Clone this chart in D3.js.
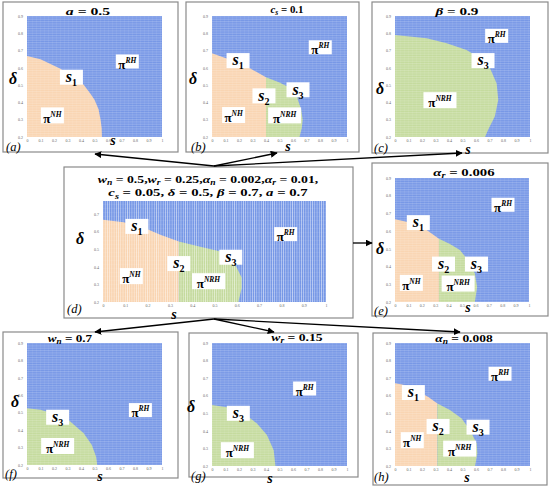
<!DOCTYPE html>
<html>
<head>
<meta charset="utf-8">
<script src="https://cdn.jsdelivr.net/npm/d3@7"></script>
<style>
  body { margin: 0; background: #fff; }
  text { font-family: "Liberation Serif", "DejaVu Serif", serif; }
</style>
</head>
<body>
<svg id="fig" width="550" height="488"></svg>
<script>
// ---- data: boundary of the pi^RH region in each panel, as [s, delta] ----
const edgeA = [[0,0.669],[0.1,0.65],[0.24,0.598],[0.34,0.55],[0.42,0.502],[0.47,0.45],[0.5,0.415],[0.53,0.36],[0.545,0.3],[0.553,0.25],[0.555,0.2]];
const edgeB = [[0,0.685],[0.14,0.645],[0.28,0.598],[0.4,0.545],[0.5,0.515],[0.58,0.483],[0.63,0.43],[0.66,0.36],[0.672,0.3],[0.665,0.25],[0.648,0.2]];
const edgeC = [[0,0.79],[0.235,0.771],[0.383,0.742],[0.53,0.704],[0.63,0.656],[0.704,0.598],[0.753,0.51],[0.765,0.415],[0.74,0.32],[0.69,0.242],[0.667,0.2]];
const edgeD = [[0,0.666],[0.093,0.652],[0.197,0.614],[0.257,0.582],[0.34,0.543],[0.436,0.513],[0.518,0.49],[0.57,0.452],[0.6,0.395],[0.622,0.337],[0.622,0.28],[0.607,0.2]];
const edgeE = [[0,0.667],[0.136,0.645],[0.236,0.607],[0.328,0.557],[0.41,0.527],[0.484,0.493],[0.546,0.436],[0.596,0.361],[0.613,0.285],[0.596,0.2]];
const edgeF = [[0,0.526],[0.1,0.517],[0.22,0.488],[0.32,0.45],[0.42,0.382],[0.48,0.315],[0.512,0.248],[0.52,0.2]];
const edgeG = [[0,0.547],[0.11,0.534],[0.235,0.5],[0.333,0.442],[0.407,0.376],[0.457,0.29],[0.47,0.2]];
const edgeH = [[0,0.671],[0.062,0.662],[0.16,0.63],[0.247,0.592],[0.314,0.555],[0.407,0.519],[0.494,0.471],[0.556,0.404],[0.605,0.328],[0.61,0.271],[0.593,0.2]];

// s where pi^NH turns into pi^NRH (1 = all NH, 0 = all NRH)
const splits = { a: 1, b: 0.4, c: 0, d: 0.34, e: 0.328, f: 0, g: 0, h: 0.314 };

// region labels: [label, s, delta]
const labelsA = [["s1",0.329,0.546],["NH",0.188,0.325],["RH",0.743,0.637]];
const labelsB = [["s1",0.193,0.642],["s2",0.385,0.438],["s3",0.637,0.473],["NH",0.16,0.327],["NRH",0.538,0.325],["RH",0.802,0.719]];
const labelsC = [["s3",0.652,0.642],["NRH",0.333,0.413],["RH",0.753,0.785]];
const labelsD = [["s1",0.152,0.629],["s2",0.34,0.418],["s3",0.573,0.454],["NH",0.127,0.347],["NRH",0.473,0.318],["RH",0.819,0.585]];
const labelsE = [["s1",0.174,0.648],["s2",0.362,0.414],["s3",0.608,0.414],["NH",0.122,0.308],["NRH",0.471,0.304],["RH",0.806,0.749]];
const labelsF = [["s3",0.227,0.474],["NRH",0.227,0.309],["RH",0.84,0.515]];
const labelsG = [["s3",0.195,0.5],["NRH",0.188,0.29],["RH",0.686,0.641]];
const labelsH = [["s1",0.136,0.618],["s2",0.319,0.425],["s3",0.615,0.421],["NH",0.128,0.347],["NRH",0.479,0.299],["RH",0.778,0.725]];

const xTicks = [0,0.1,0.2,0.3,0.4,0.5,0.6,0.7,0.8,0.9,1];
const yTicks = [0.2,0.3,0.4,0.5,0.6,0.7,0.8,0.9];
const yTicksD = [0.2,0.3,0.4,0.5,0.6,0.7];

// titles: [text, style] with style i = italic, sub = subscript
const titleA = [["a","i"],[" = 0.5",""]];
const titleB = [["c","i"],["s","sub"],[" = 0.1",""]];
const titleC = [["β","i"],[" = 0.9",""]];
const titleD1 = [["w","i"],["n","sub"],[" = 0.5,",""],["w","i"],["r","sub"],[" = 0.25,",""],["α","i"],["n","sub"],[" = 0.002,",""],["α","i"],["r","sub"],[" = 0.01,",""]];
const titleD2 = [["c","i"],["s","sub"],[" = 0.05, ",""],["δ","i"],[" = 0.5, ",""],["β","i"],[" = 0.7, ",""],["a","i"],[" = 0.7",""]];
const titleE = [["α","i"],["r","sub"],[" = 0.006",""]];
const titleF = [["w","i"],["n","sub"],[" = 0.7",""]];
const titleG = [["w","i"],["r","sub"],[" = 0.15",""]];
const titleH = [["α","i"],["n","sub"],[" = 0.008",""]];

// ---- layout ----
const panels = [
  { id: "a", edge: edgeA, labels: labelsA, title: [titleA], tw: [45], box: [3,2,178,152], plot: [27,16,162,137], yMax: 0.9, yt: yTicks,
    titlePos: [88,15], dPos: [13,84], sPos: [113,145], tag: [6,151] },
  { id: "b", edge: edgeB, labels: labelsB, title: [titleB], tw: [33], box: [186,2,359,152], plot: [212,16,347,137], yMax: 0.9, yt: yTicks,
    titlePos: [287,13], dPos: [193,84], sPos: [288,151], tag: [191,151] },
  { id: "c", edge: edgeC, labels: labelsC, title: [titleC], tw: [45], box: [372,2,548,153], plot: [395,16,530,137], yMax: 0.9, yt: yTicks,
    titlePos: [457,15], dPos: [380,94], sPos: [468,154], tag: [374,152] },
  { id: "d", edge: edgeD, labels: labelsD, title: [titleD1, titleD2], tw: [221, 200], box: [64,167,353,318], plot: [103,201,326,302], yMax: 0.773, yt: yTicksD,
    titlePos: [208,183], dPos: [80,244], sPos: [174,319], tag: [67,313], vertical: true },
  { id: "e", edge: edgeE, labels: labelsE, title: [titleE], tw: [62], box: [372,163,548,316], plot: [395,178,529,302], yMax: 0.9, yt: yTicks,
    titlePos: [464,176], dPos: [380,254], sPos: [468,312], tag: [374,315] },
  { id: "f", edge: edgeF, labels: labelsF, title: [titleF], tw: [45], box: [3,332,178,478], plot: [27,343,162,465], yMax: 0.9, yt: yTicks,
    titlePos: [70,342], dPos: [15,407], sPos: [100,481], tag: [5,478] },
  { id: "g", edge: edgeG, labels: labelsG, title: [titleG], tw: [52], box: [189,333,358,477], plot: [212,343,347,466], yMax: 0.9, yt: yTicks,
    titlePos: [297,341], dPos: [191,412], sPos: [270,483], tag: [191,479.5] },
  { id: "h", edge: edgeH, labels: labelsH, title: [titleH], tw: [58], box: [373,333,547,485], plot: [395,343,530,466], yMax: 0.9, yt: yTicks,
    titlePos: [464,342], dPos: null, sPos: [467,482], tag: [374,481] }
];

const colors = { RH: "#7697e6", NH: "#f9d4b1", NRH: "#c4da9d" };

const svg = d3.select("#fig");
const defs = svg.append("defs");

defs.append("marker")
  .attr("id", "arrow")
  .attr("viewBox", "0 0 10 10")
  .attr("refX", 9).attr("refY", 5)
  .attr("markerWidth", 7).attr("markerHeight", 7)
  .attr("markerUnits", "userSpaceOnUse")
  .attr("orient", "auto")
  .append("path")
  .attr("d", "M0,0 L10,5 L0,10 z")
  .attr("fill", "#000");

// texture patterns
const hPat = defs.append("pattern")
  .attr("id", "hstripe").attr("patternUnits", "userSpaceOnUse")
  .attr("width", 4).attr("height", 1.75);
hPat.append("rect").attr("width", 4).attr("height", 0.5).attr("fill", "#fff").attr("opacity", 0.35);
hPat.append("rect").attr("width", 0.4).attr("height", 1.75).attr("fill", "#fff").attr("opacity", 0.15);

const vPat = defs.append("pattern")
  .attr("id", "vstripe").attr("patternUnits", "userSpaceOnUse")
  .attr("width", 2.23).attr("height", 4);
vPat.append("rect").attr("width", 0.7).attr("height", 4).attr("fill", "#fff").attr("opacity", 0.55);
vPat.append("rect").attr("width", 2.23).attr("height", 0.4).attr("fill", "#fff").attr("opacity", 0.15);

function writeRich(textSel, parts, size) {
  let lastSub = false;
  parts.forEach(([t, style]) => {
    const ts = textSel.append("tspan").text(t);
    if (style === "sub") {
      ts.attr("font-style", "italic").attr("font-size", size * 0.7).attr("dy", size * 0.22);
      lastSub = true;
    } else {
      if (style === "i") ts.attr("font-style", "italic");
      if (lastSub) ts.attr("dy", -size * 0.22);
      lastSub = false;
    }
  });
}

panels.forEach(p => {
  const g = svg.append("g");
  const [bx0, by0, bx1, by1] = p.box;
  const [px0, py0, px1, py1] = p.plot;

  g.append("rect")
    .attr("x", bx0).attr("y", by0)
    .attr("width", bx1 - bx0).attr("height", by1 - by0)
    .attr("fill", "#fff").attr("stroke", "#8a8a8a").attr("stroke-width", 1.2);

  const x = d3.scaleLinear().domain([0, 1]).range([px0, px1]);
  const y = d3.scaleLinear().domain([0.2, p.yMax]).range([py1, py0]);
  const line = d3.line().x(d => x(d[0])).y(d => y(d[1]));

  // background region pi^RH
  g.append("rect")
    .attr("x", x(0)).attr("y", y(p.yMax))
    .attr("width", x(1) - x(0)).attr("height", y(0.2) - y(p.yMax))
    .attr("fill", colors.RH);

  const split = splits[p.id];
  if (split > 0) {
    const nh = [[0, 0.2]].concat(p.edge.filter(d => d[0] <= split));
    nh.push([Math.min(split, p.edge[p.edge.length - 1][0]), 0.2]);
    g.append("path").attr("d", line(nh) + "Z").attr("fill", colors.NH);
  }
  if (split < 1) {
    const nrh = (split === 0 ? [[0, 0.2]] : [[split, 0.2]]).concat(p.edge.filter(d => d[0] >= split));
    g.append("path").attr("d", line(nrh) + "Z").attr("fill", colors.NRH);
  }

  // grid texture
  g.append("rect")
    .attr("x", x(0)).attr("y", y(p.yMax))
    .attr("width", x(1) - x(0)).attr("height", y(0.2) - y(p.yMax))
    .attr("fill", p.vertical ? "url(#vstripe)" : "url(#hstripe)");

  // axes
  const xa = g.append("g").attr("transform", `translate(0,${py1})`)
    .call(d3.axisBottom(x).tickValues(xTicks).tickSize(0).tickPadding(2).tickFormat(d3.format("~g")));
  const ya = g.append("g").attr("transform", `translate(${px0},0)`)
    .call(d3.axisLeft(y).tickValues(p.yt).tickSize(0).tickPadding(4).tickFormat(d3.format(".1f")));
  [xa, ya].forEach(a => {
    a.select(".domain").remove();
    a.selectAll("text").attr("font-size", 4).attr("fill", "#666")
      .attr("font-family", "DejaVu Sans, sans-serif");
  });

  // region labels
  p.labels.forEach(([name, s, d]) => {
    const lg = g.append("g");
    const isS = name[0] === "s";
    const w = isS ? 23 : (name === "NRH" ? 33 : 23);
    const h = isS ? 15 : (name === "RH" ? 14 : 16);
    lg.append("rect")
      .attr("x", x(s) - w / 2).attr("y", y(d) - h / 2)
      .attr("width", w).attr("height", h)
      .attr("fill", "#fff");
    const t = lg.append("text")
      .attr("x", x(s)).attr("y", y(d))
      .attr("text-anchor", "middle")
      .attr("font-weight", "bold");
    if (isS) {
      t.attr("dy", "0.3em");
      t.append("tspan").text("s").attr("font-style", "italic").attr("font-size", 16);
      t.append("tspan").text(name[1]).attr("font-size", 10).attr("dy", 4);
    } else {
      t.attr("dy", "0.45em");
      t.append("tspan").text("π").attr("font-size", 13);
      t.append("tspan").text(name).attr("font-size", 7.5).attr("font-style", "italic").attr("dy", -6);
    }
  });

  // titles, stretched horizontally to the width they take in the figure
  p.title.forEach((parts, i) => {
    const cx = p.titlePos[0], cy = p.titlePos[1] + i * 13.5;
    const tg = g.append("g");
    const t = tg.append("text")
      .attr("x", cx).attr("y", cy)
      .attr("text-anchor", "middle")
      .attr("font-family", "'DejaVu Serif', serif")
      .attr("font-weight", "bold")
      .attr("font-size", 11);
    writeRich(t, parts, 11);
    const k = p.tw[i] / t.node().getBBox().width;
    tg.attr("transform", `translate(${cx},0) scale(${k},1) translate(${-cx},0)`);
  });

  // axis labels and panel tag
  if (p.dPos) {
    g.append("text").attr("x", p.dPos[0]).attr("y", p.dPos[1])
      .attr("text-anchor", "middle").attr("font-weight", "bold").attr("font-style", "italic")
      .attr("font-size", 16).text("δ");
  }
  g.append("text").attr("x", p.sPos[0]).attr("y", p.sPos[1])
    .attr("text-anchor", "middle").attr("font-weight", "bold").attr("font-style", "italic")
    .attr("font-size", 14).text("s");
  g.append("text").attr("x", p.tag[0]).attr("y", p.tag[1])
    .attr("font-style", "italic").attr("font-size", 12.5).text(`(${p.id})`);
});

// arrows linking the base case to the variations
const arrows = [
  [[214,166],[95,154]], [[214,166],[277,153]], [[214,166],[462,153]],
  [[353,243],[372,243]],
  [[214,319],[95,332]], [[214,319],[274,332]], [[214,319],[460,332]]
];
svg.append("g").selectAll("line")
  .data(arrows)
  .join("line")
  .attr("x1", d => d[0][0]).attr("y1", d => d[0][1])
  .attr("x2", d => d[1][0]).attr("y2", d => d[1][1])
  .attr("stroke", "#000").attr("stroke-width", 1.3)
  .attr("marker-end", "url(#arrow)");
</script>
</body>
</html>
